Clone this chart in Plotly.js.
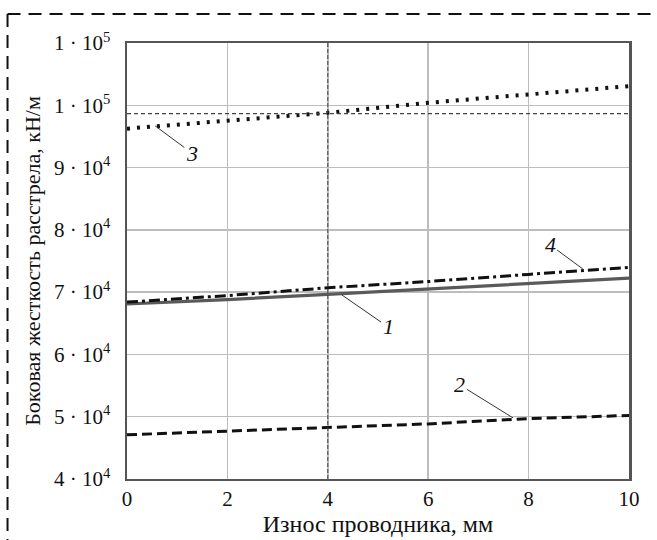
<!DOCTYPE html>
<html>
<head>
<meta charset="utf-8">
<script src="https://cdn.plot.ly/plotly-3.0.1.min.js"></script>
<style>html,body{margin:0;padding:0;background:#fff;}#chart{width:657px;height:540px;}</style>
</head>
<body>
<div id="chart"></div>
<script>
const wear = [0, 2, 4, 6, 8, 10];
const series1 = [68100, 68800, 69650, 70500, 71450, 72250];
const series2 = [47100, 47650, 48300, 48850, 49700, 50200];
const series3 = [96250, 97600, 98800, 100400, 101750, 103080];
const series4 = [68400, 69450, 70700, 71700, 72850, 73950];
const refLevel = 98650;
const refWear = 4;
const yTickVals = [40000, 50000, 60000, 70000, 80000, 90000, 100000, 110000];
const yTickText = ['4 · 10<sup>4</sup>', '5 · 10<sup>4</sup>', '6 · 10<sup>4</sup>', '7 · 10<sup>4</sup>', '8 · 10<sup>4</sup>', '9 · 10<sup>4</sup>', '1 · 10<sup>5</sup>', '1 · 10<sup>5</sup>'];
const xTickVals = [0, 2, 4, 6, 8, 10];
const labels = [
  {text: '1', x: 4.28, y: 69550, tx: 5.20, ty: 64420},
  {text: '2', x: 7.69, y: 49810, tx: 6.63, ty: 55100},
  {text: '3', x: 0.56, y: 96700, tx: 1.29, ty: 92340},
  {text: '4', x: 9.08, y: 73720, tx: 8.43, ty: 77580}
];

const font = 'Liberation Serif, Times New Roman, serif';
const traces = [
  {x: wear, y: series1, mode: 'lines', line: {color: '#5a5a5a', width: 3.2}},
  {x: wear, y: series2, mode: 'lines', line: {color: '#111', width: 3, dash: '10px,5px'}},
  {x: wear, y: series3, mode: 'lines', line: {color: '#111', width: 4, dash: '3px,7px'}},
  {x: wear, y: series4, mode: 'lines', line: {color: '#111', width: 3, dash: '11px,4px,3px,4px'}}
];

const shapes = [
  {type: 'line', xref: 'x', yref: 'y', x0: 0, x1: 10, y0: refLevel, y1: refLevel, line: {color: '#444', width: 1.3, dash: '4px,3px'}},
  {type: 'line', xref: 'x', yref: 'y', x0: refWear, x1: refWear, y0: 40000, y1: 110000, line: {color: '#444', width: 1, dash: '4px,2px'}},
  {type: 'line', xref: 'paper', yref: 'paper', x0: -0.238, x1: 1.07, y0: 1.0665, y1: 1.0665, line: {color: '#111', width: 2, dash: '13px,8px'}},
  {type: 'line', xref: 'paper', yref: 'paper', x0: -0.238, x1: -0.238, y0: 1.0665, y1: -0.16, line: {color: '#111', width: 2, dash: '13px,8px'}}
];

const annotations = labels.map(l => ({
  x: l.x, y: l.y, ax: l.tx, ay: l.ty, axref: 'x', ayref: 'y', xref: 'x', yref: 'y',
  text: '<i>' + l.text + '</i>', showarrow: true, arrowhead: 0, arrowwidth: 1, arrowcolor: '#333',
  font: {family: font, size: 22, color: '#111'}
}));

const layout = {
  width: 657, height: 540,
  margin: {l: 127, r: 28, t: 43, b: 61},
  paper_bgcolor: '#fff', plot_bgcolor: '#fff',
  showlegend: false,
  font: {family: font, size: 20, color: '#111'},
  xaxis: {
    range: [0, 10], tickvals: xTickVals, ticks: '', showgrid: true, gridcolor: '#bdbdbd', gridwidth: 1.5,
    zeroline: false, showline: true, linecolor: '#555', linewidth: 2, mirror: true,
    tickfont: {family: font, size: 21, color: '#111'},
    title: {text: 'Износ проводника, мм', font: {family: font, size: 24, color: '#111'}, standoff: 2}
  },
  yaxis: {
    range: [40000, 110000], tickvals: yTickVals, ticktext: yTickText, ticks: '', showgrid: true, gridcolor: '#bdbdbd', gridwidth: 1.5,
    zeroline: false, showline: true, linecolor: '#555', linewidth: 2.5, mirror: true,
    ticklabelstandoff: 10,
    tickfont: {family: font, size: 21, color: '#111'},
    title: {text: 'Боковая жесткость расстрела, кН/м', font: {family: font, size: 22, color: '#111'}, standoff: 8}
  },
  shapes: shapes,
  annotations: annotations
};

Plotly.newPlot('chart', traces, layout, {displayModeBar: false, staticPlot: true});
</script>
</body>
</html>
